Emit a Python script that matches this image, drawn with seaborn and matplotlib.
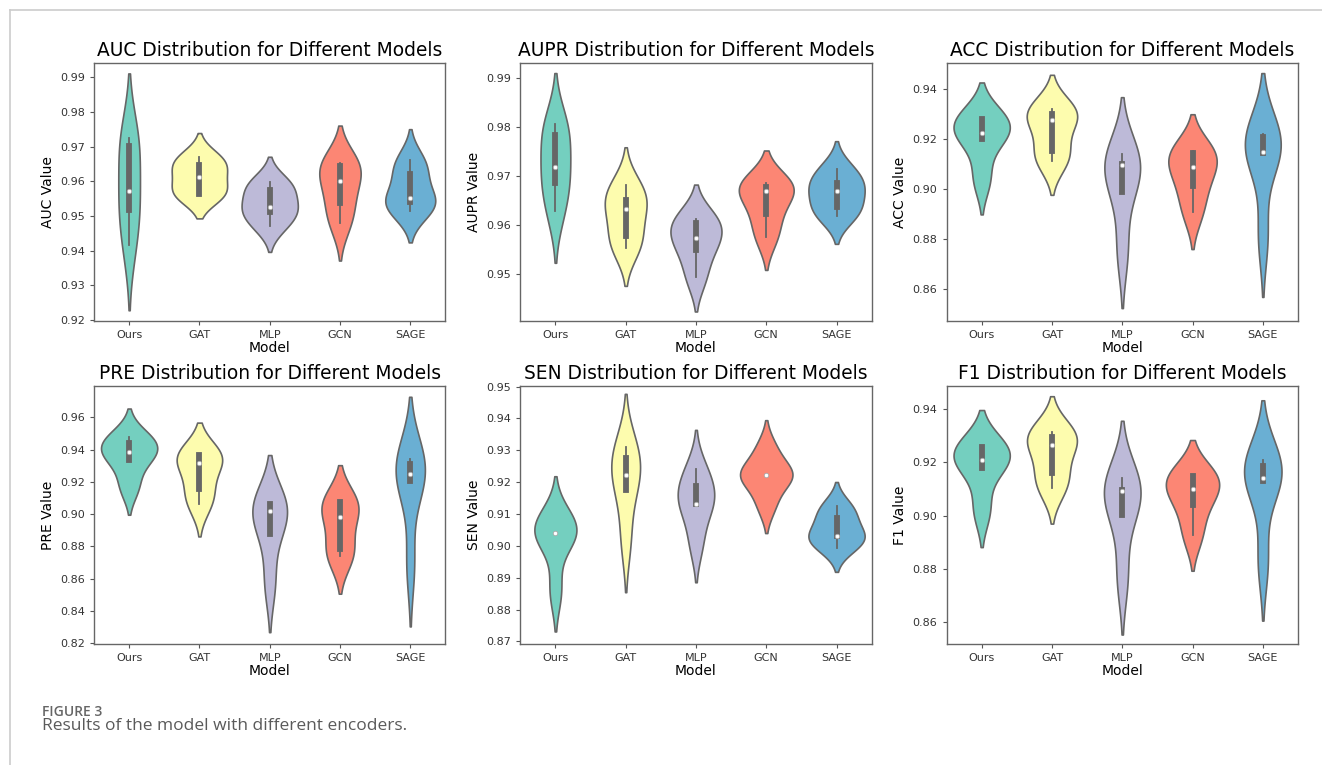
"""Violin plots of six metrics for five encoders (Figure 3)."""
import matplotlib
matplotlib.use("Agg")
import matplotlib.pyplot as plt
from matplotlib.lines import Line2D
import pandas as pd
import seaborn as sns

MODELS = ["Ours", "GAT", "MLP", "GCN", "SAGE"]
METRICS = ["AUC", "AUPR", "ACC", "PRE", "SEN", "F1"]
COLORS = ["#74cfbf", "#fdfcae", "#bdbad8", "#fc8674", "#6aafd3"]

AUC = {
    "Ours": [0.9415, 0.9516, 0.9573, 0.9701, 0.9724],
    "GAT": [0.9563, 0.9563, 0.9613, 0.9648, 0.9669],
    "MLP": [0.9470, 0.9512, 0.9527, 0.9576, 0.9597],
    "GCN": [0.9479, 0.9537, 0.9602, 0.9645, 0.9653],
    "SAGE": [0.9513, 0.9540, 0.9552, 0.9622, 0.9661],
}
AUPR = {
    "Ours": [0.9628, 0.9685, 0.9719, 0.9783, 0.9805],
    "GAT": [0.9553, 0.9579, 0.9633, 0.9651, 0.9682],
    "MLP": [0.9494, 0.9550, 0.9574, 0.9605, 0.9613],
    "GCN": [0.9576, 0.9623, 0.9670, 0.9678, 0.9685],
    "SAGE": [0.9618, 0.9637, 0.9670, 0.9686, 0.9715],
}
ACC = {
    "Ours": [0.9040, 0.9199, 0.9223, 0.9279, 0.9282],
    "GAT": [0.9111, 0.9152, 0.9273, 0.9300, 0.9320],
    "MLP": [0.8750, 0.8988, 0.9094, 0.9098, 0.9138],
    "GCN": [0.8906, 0.9011, 0.9087, 0.9142, 0.9150],
    "SAGE": [0.8810, 0.9142, 0.9145, 0.9205, 0.9219],
}
PRE = {
    "Ours": [0.9170, 0.9336, 0.9383, 0.9439, 0.9480],
    "GAT": [0.9061, 0.9156, 0.9315, 0.9367, 0.9367],
    "MLP": [0.8570, 0.8878, 0.9016, 0.9063, 0.9063],
    "GCN": [0.8737, 0.8783, 0.8979, 0.9072, 0.9072],
    "SAGE": [0.8690, 0.9202, 0.9249, 0.9309, 0.9340],
}
SEN = {
    "Ours": [0.8860, 0.9040, 0.9040, 0.9040, 0.9090],
    "GAT": [0.9020, 0.9175, 0.9224, 0.9277, 0.9312],
    "MLP": [0.9010, 0.9130, 0.9132, 0.9188, 0.9240],
    "GCN": [0.9130, 0.9222, 0.9222, 0.9222, 0.9305],
    "SAGE": [0.8994, 0.9030, 0.9032, 0.9088, 0.9125],
}
F1 = {
    "Ours": [0.9022, 0.9180, 0.9209, 0.9256, 0.9256],
    "GAT": [0.9103, 0.9159, 0.9265, 0.9293, 0.9315],
    "MLP": [0.8770, 0.9002, 0.9093, 0.9097, 0.9140],
    "GCN": [0.8928, 0.9040, 0.9100, 0.9149, 0.9149],
    "SAGE": [0.8830, 0.9130, 0.9140, 0.9188, 0.9209],
}
RESULTS = {"AUC": AUC, "AUPR": AUPR, "ACC": ACC, "PRE": PRE, "SEN": SEN, "F1": F1}

# y ranges as shown in the reference panels
YLIMS = {
    "AUC": (0.9197, 0.9941),
    "AUPR": (0.9405, 0.9930),
    "ACC": (0.8470, 0.9503),
    "PRE": (0.8194, 0.9794),
    "SEN": (0.8692, 0.9502),
    "F1": (0.8519, 0.9486),
}


def to_frame(metric: str) -> pd.DataFrame:
    rows = []
    for model in MODELS:
        for v in RESULTS[metric][model]:
            rows.append({"Model": model, "Value": v})
    return pd.DataFrame(rows)


fig, axes = plt.subplots(2, 3, figsize=(13.22, 7.65), dpi=100)
fig.subplots_adjust(left=0.0711, right=0.9818, top=0.9176, bottom=0.1582,
                    wspace=0.213, hspace=0.252)

palette = dict(zip(MODELS, COLORS))
for ax, metric in zip(axes.flat, METRICS):
    df = to_frame(metric)
    sns.violinplot(data=df, x="Model", y="Value", hue="Model", order=MODELS,
                   palette=palette, saturation=1, legend=False, ax=ax,
                   common_norm=True, linecolor="#666666", linewidth=1.2,
                   inner_kws={"box_width": 4.2, "whis_width": 1.3, "marker": "o"})
    # smaller median dots, like the original
    for ln in ax.lines:
        if ln.get_marker() == "o":
            ln.set_markersize(3.2)
            ln.set_markerfacecolor("white")
            ln.set_markeredgecolor("#aaaaaa")
            ln.set_markeredgewidth(0.6)
    ax.set_ylim(*YLIMS[metric])
    ax.set_title(f"{metric} Distribution for Different Models", fontsize=13.4, pad=5)
    ax.set_xlabel("Model", fontsize=10, labelpad=1)
    ax.set_ylabel(f"{metric} Value", fontsize=10, labelpad=4)
    ax.tick_params(labelsize=8, colors="#333333", length=3, color="#555555")
    for s in ax.spines.values():
        s.set_color("#666666")
        s.set_linewidth(1.0)

# page frame lines and caption
fig.add_artist(Line2D([9.5 / 1322, 1], [1 - 9.5 / 765] * 2, transform=fig.transFigure,
                      color="#cccccc", lw=1.2))
fig.add_artist(Line2D([9.5 / 1322] * 2, [0, 1 - 9.5 / 765], transform=fig.transFigure,
                      color="#cccccc", lw=1.2))
fig.text(42 / 1322, 1 - 712.5 / 765, "FIGURE 3", fontsize=10, fontweight="semibold",
         color="#666666", va="center", family="Open Sans")
fig.text(42 / 1322, 1 - 726 / 765, "Results of the model with different encoders.",
         fontsize=12.5, color="#5a5a5a", va="center", family="Open Sans")

fig.savefig("out.png", dpi=100)
